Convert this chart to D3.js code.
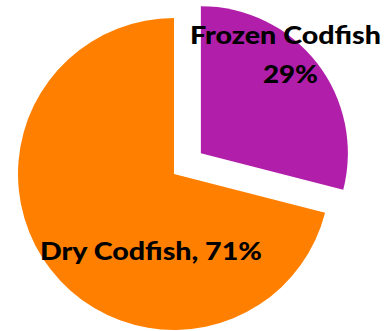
<!DOCTYPE html>
<html><head><meta charset="utf-8">
<script src="https://cdn.jsdelivr.net/npm/d3@7"></script>
<style>html,body{margin:0;padding:0;background:#fff;}svg{display:block;}</style>
</head><body>
<svg id="chart" width="385" height="331"></svg>
<script>
const categories = ["Frozen Codfish", "Dry Codfish"];
const values = [29, 71];
const labels = [["Frozen Codfish", "29%"], ["Dry Codfish, 71%"]];
const colors = ["#B01EAA", "#FF8000"];

const svg = d3.select("#chart");
const cx = 174, cy = 174, R = 156, Rexp = 147, explode = 34;
const pie = d3.pie().sort(null).value(d => d)(values);
const g = svg.append("g").attr("transform", `translate(${cx},${cy})`);

pie.forEach((p, i) => {
  const exploded = i === 0;
  const r = exploded ? Rexp : R;
  const mid = (p.startAngle + p.endAngle) / 2;
  const dx = exploded ? explode * Math.sin(mid) : 0;
  const dy = exploded ? -explode * Math.cos(mid) : 0;
  g.append("path")
    .attr("d", d3.arc().innerRadius(0).outerRadius(r)(p))
    .attr("transform", `translate(${dx},${dy})`)
    .attr("fill", colors[i]);
});

const font = "Lato, 'Open Sans', sans-serif";
function label(x, y, len, txt) {
  svg.append("text").attr("font-family", font).attr("font-weight", 900)
    .attr("font-size", 24.5).attr("fill", "#000")
    .attr("x", x).attr("y", y)
    .attr("textLength", len).attr("lengthAdjust", "spacingAndGlyphs")
    .text(txt);
}
label(190, 44, 191, labels[0][0]);
label(263, 82.5, 55, labels[0][1]);
label(40, 259.5, 222, labels[1][0]);
</script>
</body></html>
